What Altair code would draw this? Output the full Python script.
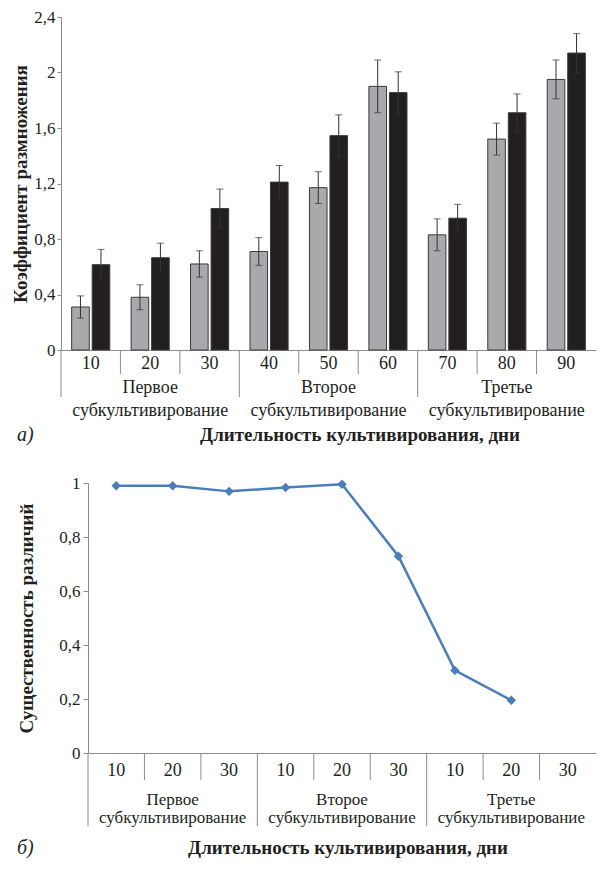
import altair as alt
import pandas as pd

# ---------------- data ----------------
days = [10, 20, 30, 40, 50, 60, 70, 80, 90]
groups = ["Первое", "Второе", "Третье"]
group_suffix = "субкультивирование"
grey_vals = [0.31, 0.38, 0.62, 0.71, 1.17, 1.90, 0.83, 1.52, 1.95]
grey_err = [0.08, 0.09, 0.095, 0.10, 0.115, 0.19, 0.115, 0.115, 0.14]
black_vals = [0.615, 0.665, 1.02, 1.21, 1.545, 1.855, 0.95, 1.71, 2.14]
black_err = [0.11, 0.105, 0.14, 0.12, 0.15, 0.15, 0.10, 0.135, 0.14]
top_ticks = [0, 0.4, 0.8, 1.2, 1.6, 2, 2.4]

sub_days = [10, 20, 30]
signif = [0.99, 0.99, 0.969, 0.983, 0.995, 0.729, 0.306, 0.195, None]
bottom_ticks = [0, 0.2, 0.4, 0.6, 0.8, 1]

x_title = "Длительность культивирования, дни"
y_title_top = "Коэффициент размножения"
y_title_bottom = "Существенность различий"
panel_labels = ["а)", "б)"]

# ---------------- style ----------------
FONT = "Liberation Serif"
TXT = "#231f20"
AX = "#8c8c8c"
W1, H1 = 535, 333
W2, H2 = 535, 270
label_expr = "replace(format(datum.value, '.2~f'), '.', ',')"

# ---------------- top chart ----------------
cats = [str(d) for d in days]
rows = []
for i, c in enumerate(cats):
    rows.append({"cat": c, "series": "a", "value": grey_vals[i],
                 "lo": grey_vals[i] - grey_err[i], "hi": grey_vals[i] + grey_err[i]})
    rows.append({"cat": c, "series": "b", "value": black_vals[i],
                 "lo": black_vals[i] - black_err[i], "hi": black_vals[i] + black_err[i]})
df_top = pd.DataFrame(rows)

xs1 = alt.Scale(domain=cats, paddingInner=0, paddingOuter=0)
xoff = alt.XOffset("series:N", sort=["a", "b"],
                   scale=alt.Scale(domain=["a", "b"], paddingInner=0.143, paddingOuter=0.52))
yax1 = alt.Axis(values=top_ticks, labelExpr=label_expr, title=y_title_top,
                titleFont=FONT, titleFontSize=19, titleFontWeight="bold", titleColor=TXT,
                labelFont=FONT, labelFontSize=17, labelColor=TXT, labelPadding=2,
                titlePadding=3, tickSize=4, tickColor=AX, domainColor=AX, grid=False)
ys1 = alt.Scale(domain=[0, 2.4], nice=False)

xaxis_line = alt.Axis(labels=False, ticks=False, domain=True, domainColor=AX, title=None, grid=False)

bars = alt.Chart(df_top).mark_bar(stroke="#3a3a3a", strokeWidth=1).encode(
    x=alt.X("cat:N", sort=cats, scale=xs1, axis=xaxis_line),
    xOffset=xoff,
    y=alt.Y("value:Q", scale=ys1, axis=yax1),
    color=alt.Color("series:N", scale=alt.Scale(domain=["a", "b"], range=["#a7a9ac", "#231f20"]), legend=None),
)
err = alt.Chart(df_top).mark_rule(color="#333333", strokeWidth=1).encode(
    x=alt.X("cat:N", sort=cats, scale=xs1), xOffset=xoff,
    y=alt.Y("lo:Q", scale=ys1), y2="hi:Q",
)
cap_hi = alt.Chart(df_top).mark_tick(color="#333333", thickness=1, size=7).encode(
    x=alt.X("cat:N", sort=cats, scale=xs1), xOffset=xoff, y=alt.Y("hi:Q", scale=ys1),
)
cap_lo = alt.Chart(df_top).mark_tick(color="#333333", thickness=1, size=7).encode(
    x=alt.X("cat:N", sort=cats, scale=xs1), xOffset=xoff, y=alt.Y("lo:Q", scale=ys1),
)

df_sep1 = pd.DataFrame({"cat": cats, "first": [i % 3 == 0 for i in range(len(cats))]})
sep1_short = alt.Chart(df_sep1).transform_filter("!datum.first").mark_rule(color=AX, strokeWidth=1).encode(
    x=alt.X("cat:N", sort=cats, scale=xs1, bandPosition=0), y=alt.value(H1), y2=alt.value(H1 + 24))
sep1_long = alt.Chart(df_sep1).transform_filter("datum.first").mark_rule(color=AX, strokeWidth=1).encode(
    x=alt.X("cat:N", sort=cats, scale=xs1, bandPosition=0), y=alt.value(H1), y2=alt.value(H1 + 47))
daylab1 = alt.Chart(df_sep1).mark_text(font=FONT, fontSize=18, color=TXT, baseline="middle").encode(
    x=alt.X("cat:N", sort=cats, scale=xs1), y=alt.value(H1 + 14), text="cat:N")
df_g1 = pd.DataFrame({"cat": [cats[3 * k + 1] for k in range(3)],
                      "label": [g + "\n" + group_suffix for g in groups]})
grouplab1 = alt.Chart(df_g1).mark_text(font=FONT, fontSize=18, color=TXT, baseline="middle",
                                       lineBreak="\n", lineHeight=23).encode(
    x=alt.X("cat:N", sort=cats, scale=xs1), y=alt.value(H1 + 38), text="label:N")
df_t1 = pd.DataFrame({"panel": [panel_labels[0]], "title": [x_title]})
panel1 = alt.Chart(df_t1).mark_text(font=FONT, fontSize=20, fontStyle="italic", color=TXT,
                                    align="left", baseline="middle").encode(
    x=alt.value(-44), y=alt.value(H1 + 85), text="panel:N")
xt1 = alt.Chart(df_t1).mark_text(font=FONT, fontSize=19, fontWeight="bold", color=TXT,
                                 baseline="middle").encode(
    x=alt.value(299), y=alt.value(H1 + 85), text="title:N")

top = alt.layer(bars, err, cap_hi, cap_lo, sep1_short, sep1_long, daylab1, grouplab1, panel1, xt1).properties(
    width=W1, height=H1)

# ---------------- bottom chart ----------------
keys = [f"{k}-{d}" for k in range(3) for d in sub_days]
lab2 = [str(d) for k in range(3) for d in sub_days]
df_b = pd.DataFrame({"key": keys, "value": signif}).dropna()
xs2 = alt.Scale(domain=keys, paddingInner=0, paddingOuter=0, range=[27, W2])
ys2 = alt.Scale(domain=[0, 1], nice=False)
yax2 = alt.Axis(values=bottom_ticks, labelExpr=label_expr, title=y_title_bottom,
                titleFont=FONT, titleFontSize=19, titleFontWeight="bold", titleColor=TXT,
                labelFont=FONT, labelFontSize=17, labelColor=TXT, labelPadding=3,
                titlePadding=22, tickSize=5, tickColor=AX, domainColor=AX, grid=False, offset=-27)
BLUE = "#4a7ebb"
line = alt.Chart(df_b).mark_line(color=BLUE, strokeWidth=2.5).encode(
    x=alt.X("key:N", sort=keys, scale=xs2, bandPosition=0.5, axis=xaxis_line),
    y=alt.Y("value:Q", scale=ys2, axis=yax2))
pts = alt.Chart(df_b).mark_point(shape="diamond", filled=True, size=90, color=BLUE, opacity=1).encode(
    x=alt.X("key:N", sort=keys, scale=xs2, bandPosition=0.5), y=alt.Y("value:Q", scale=ys2))

df_sep2 = pd.DataFrame({"key": keys, "lab": lab2, "first": [i % 3 == 0 for i in range(len(keys))]})
sep2_short = alt.Chart(df_sep2).transform_filter("!datum.first").mark_rule(color=AX, strokeWidth=1).encode(
    x=alt.X("key:N", sort=keys, scale=xs2, bandPosition=0), y=alt.value(H2), y2=alt.value(H2 + 27))
sep2_long = alt.Chart(df_sep2).transform_filter("datum.first").mark_rule(color=AX, strokeWidth=1).encode(
    x=alt.X("key:N", sort=keys, scale=xs2, bandPosition=0), y=alt.value(H2), y2=alt.value(H2 + 73))
daylab2 = alt.Chart(df_sep2).mark_text(font=FONT, fontSize=18, color=TXT, baseline="middle").encode(
    x=alt.X("key:N", sort=keys, scale=xs2, bandPosition=0.5), y=alt.value(H2 + 18), text="lab:N")
df_g2 = pd.DataFrame({"key": [keys[3 * k + 1] for k in range(3)],
                      "label": [g + "\n" + group_suffix for g in groups]})
grouplab2 = alt.Chart(df_g2).mark_text(font=FONT, fontSize=17, color=TXT, baseline="middle",
                                       lineBreak="\n", lineHeight=18).encode(
    x=alt.X("key:N", sort=keys, scale=xs2, bandPosition=0.5), y=alt.value(H2 + 47), text="label:N")
df_t2 = pd.DataFrame({"panel": [panel_labels[1]], "title": [x_title]})
panel2 = alt.Chart(df_t2).mark_text(font=FONT, fontSize=20, fontStyle="italic", color=TXT,
                                    align="left", baseline="middle").encode(
    x=alt.value(-44), y=alt.value(H2 + 95), text="panel:N")
xt2 = alt.Chart(df_t2).mark_text(font=FONT, fontSize=19, fontWeight="bold", color=TXT,
                                 baseline="middle").encode(
    x=alt.value(287), y=alt.value(H2 + 95), text="title:N")

bottom = alt.layer(line, pts, sep2_short, sep2_long, daylab2, grouplab2, panel2, xt2).properties(
    width=W2, height=H2)

chart = alt.vconcat(top, bottom, spacing=29).properties(
    padding={"left": 3, "top": 0, "right": 0, "bottom": 0}
).configure_view(stroke=None)

chart.save("out.html", embed_options={"renderer": "svg", "actions": False})
